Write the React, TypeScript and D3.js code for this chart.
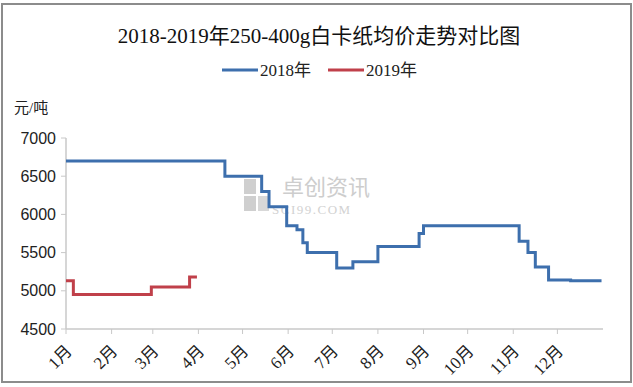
import React from 'react';
import * as d3 from 'd3';

// 2018 series (step changes: date in MM-DD, price 元/吨)
const dates2018 = ['01-01', '04-19', '05-14', '05-19', '05-31', '06-07', '06-11', '06-14', '07-04', '07-15', '08-01', '08-29', '09-01', '11-05', '11-11', '11-16', '11-25', '12-10', '12-31'];
const values2018 = [6700, 6500, 6300, 6100, 5850, 5800, 5630, 5500, 5300, 5380, 5580, 5750, 5850, 5650, 5500, 5310, 5140, 5130, 5130];

// 2019 series
const dates2019 = ['01-01', '01-06', '02-28', '03-26', '03-31'];
const values2019 = [5130, 4950, 5050, 5180, 5180];

const monthLabels = ['1月', '2月', '3月', '4月', '5月', '6月', '7月', '8月', '9月', '10月', '11月', '12月'];
const yTicks = [4500, 5000, 5500, 6000, 6500, 7000];

const seriesNames = ['2018年', '2019年'];
const colors = ['#3d6fad', '#c0404a'];

const W = 633;
const H = 387;

const parse = (s: string) => new Date(2018, +s.slice(0, 2) - 1, +s.slice(3, 5));

export default function App() {
  const x = d3.scaleTime()
    .domain([new Date(2018, 0, 1), new Date(2019, 0, 1)])
    .range([66, 603]);
  const y = d3.scaleLinear().domain([4500, 7000]).range([329, 138]);

  const line = d3.line<[Date, number]>()
    .x(d => x(d[0]))
    .y(d => y(d[1]))
    .curve(d3.curveStepAfter);

  const s2018 = dates2018.map((d, i) => [parse(d), values2018[i]] as [Date, number]);
  const s2019 = dates2019.map((d, i) => [parse(d), values2019[i]] as [Date, number]);

  const months = d3.range(12).map(m => new Date(2018, m, 1));
  const serif = '"Liberation Serif", "DejaVu Serif", "Noto Sans CJK SC", serif';
  const sans = '"Liberation Sans", Arial, sans-serif';

  return (
    <svg width={W} height={H} style={{ position: 'absolute', left: 0, top: 0, background: '#fff' }}>
      <rect x={2} y={4} width={629} height={378} fill="#fff" stroke="#8c8c8c" strokeWidth={2} />

      {/* title */}
      <text x={319} y={43} textAnchor="middle" fontFamily={serif} fontSize={21} fill="#111">
        2018-2019年250-400g白卡纸均价走势对比图
      </text>

      {/* legend */}
      {seriesNames.map((n, i) => (
        <g key={n} transform={`translate(${222 + i * 106},70)`}>
          <line x1={0} x2={36} y1={0} y2={0} stroke={colors[i]} strokeWidth={3} />
          <text x={38} y={6} fontFamily={serif} fontSize={17} fill="#222">{n}</text>
        </g>
      ))}

      <text x={14} y={113} fontFamily={serif} fontSize={15} fill="#222">元/吨</text>

      {/* watermark */}
      <g>
        <rect x={244} y={179} width={12} height={15} fill="#cfcfcf" />
        <rect x={244} y={196} width={12} height={15} fill="#cfcfcf" />
        <rect x={258} y={196} width={11} height={15} fill="#d8d8d8" />
        <text x={282} y={195} fontFamily='"Noto Sans CJK SC", sans-serif' fontSize={22} fill="#cdcdcd">卓创资讯</text>
        <text x={272} y={214} fontFamily={serif} fontSize={13} fill="#d2d2d2" letterSpacing={1.5}>SCI99.COM</text>
      </g>

      {/* y axis */}
      <line x1={66} x2={66} y1={y(7000)} y2={y(4500)} stroke="#c8c8c8" strokeWidth={1.5} />
      {yTicks.map(t => (
        <g key={t}>
          <line x1={61} x2={66} y1={y(t)} y2={y(t)} stroke="#c8c8c8" />
          <text x={56} y={y(t) + 5.5} textAnchor="end" fontFamily={sans} fontSize={16} fill="#222">{t}</text>
        </g>
      ))}

      {/* x axis */}
      <line x1={66} x2={603} y1={y(4500)} y2={y(4500)} stroke="#c8c8c8" strokeWidth={1.5} />
      {months.map((m, i) => (
        <g key={i}>
          <line x1={x(m)} x2={x(m)} y1={y(4500)} y2={y(4500) + 5} stroke="#c8c8c8" />
          <text
            transform={`translate(${x(m) + 7},${y(4500) + 23}) rotate(-45)`}
            textAnchor="end"
            fontFamily={serif}
            fontSize={17}
            fill="#222"
          >
            {monthLabels[i]}
          </text>
        </g>
      ))}

      <path d={line(s2018) || ''} fill="none" stroke={colors[0]} strokeWidth={3} />
      <path d={line(s2019) || ''} fill="none" stroke={colors[1]} strokeWidth={3} />
    </svg>
  );
}
